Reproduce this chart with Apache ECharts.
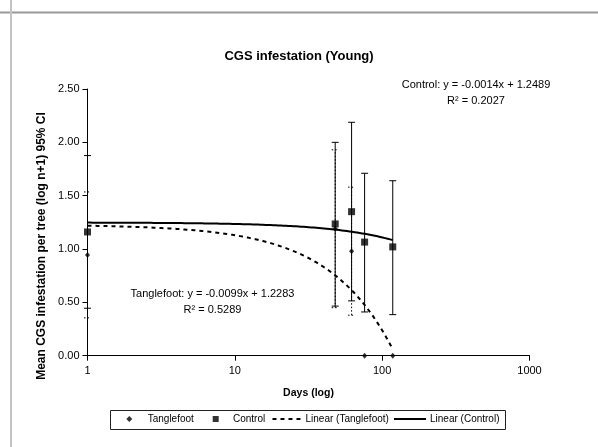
<!DOCTYPE html>
<html><head><meta charset="utf-8">
<script src="https://cdn.jsdelivr.net/npm/echarts@6/dist/echarts.min.js"></script>
<style>html,body{margin:0;padding:0;background:#fff}#c{width:598px;height:447px}</style>
</head><body><div id="c"></div>
<script>
// ---- data ----
const days = [1, 48, 62, 76, 118];
const tanglefootMean = [0.945, 1.19, 0.98, 0, 0];
const tanglefootLow  = [0.355, 0.45, 0.38, 0, 0];
const tanglefootHigh = [1.535, 1.93, 1.58, 0, 0];
const controlMean = [1.16, 1.235, 1.35, 1.065, 1.02];
const controlLow  = [0.445, 0.465, 0.514, 0.41, 0.385];
const controlHigh = [1.876, 2.0, 2.188, 1.71, 1.64];
const tanglefootTrend = { slope: -0.0099, intercept: 1.2283, r2: '0.5289' };
const controlTrend = { slope: -0.0014, intercept: 1.2489, r2: '0.2027' };
const xTicks = [1, 10, 100, 1000];
const yTicks = ['0.00', '0.50', '1.00', '1.50', '2.00', '2.50'];
const chartTitle = 'CGS infestation (Young)';
const xName = 'Days (log)';
const yName = 'Mean CGS infestation per tree (log n+1) 95% CI';

const FONT = 'Liberation Sans, Arial, Helvetica, sans-serif';

function pts(xs, ys) { return xs.map((x, i) => [x, ys[i]]); }
function errData(xs, lo, hi) {
  return xs.map((x, i) => [x, lo[i], hi[i]]).filter(d => d[2] > d[1]);
}
// Excel linear trendline (y = a*x + b) drawn over the data's x range on a log axis
function trendLine(t) {
  const lo = Math.log10(days[0]), hi = Math.log10(days[days.length - 1]);
  const out = [];
  for (let i = 0; i <= 120; i++) {
    const x = Math.pow(10, lo + (hi - lo) * i / 120);
    out.push([x, t.slope * x + t.intercept]);
  }
  return out;
}
function errRender(dash) {
  return function (params, api) {
    const x = api.value(0);
    const pLo = api.coord([x, api.value(1)]);
    const pHi = api.coord([x, api.value(2)]);
    const cap = 3.5;
    const style = { stroke: '#000', lineWidth: 1, lineDash: dash };
    return {
      type: 'group',
      children: [
        { type: 'line', shape: { x1: pLo[0], y1: pLo[1], x2: pHi[0], y2: pHi[1] }, style },
        { type: 'line', shape: { x1: pLo[0] - cap, y1: pLo[1], x2: pLo[0] + cap, y2: pLo[1] }, style },
        { type: 'line', shape: { x1: pHi[0] - cap, y1: pHi[1], x2: pHi[0] + cap, y2: pHi[1] }, style }
      ]
    };
  };
}

const chart = echarts.init(document.getElementById('c'), null, { renderer: 'canvas' });
const txt = { fontFamily: FONT, fontSize: 11, color: '#000' };

function legendAt(name, left, w, textPad, isLine) {
  const l = {
    data: [{ name }], left, top: 414, itemWidth: w, itemHeight: 6, padding: 0,
    textStyle: { fontFamily: FONT, fontSize: 10, color: '#000', padding: [0, 0, 0, textPad] },
    itemGap: 0, selectedMode: false
  };
  if (isLine) l.itemStyle = { color: 'rgba(0,0,0,0)', borderWidth: 0, opacity: 0 };
  return l;
}

chart.setOption({
  animation: false,
  backgroundColor: '#fff',
  textStyle: { fontFamily: FONT },
  title: {
    text: chartTitle, left: 'center', top: 45,
    textStyle: { fontFamily: FONT, fontSize: 13, fontWeight: 'bold', color: '#000' }
  },
  grid: { left: 87.5, right: 68.5, top: 89, bottom: 91.3, containLabel: false },
  legend: [
    legendAt('Tanglefoot', 126.3, 6, 10.4, false),
    legendAt('Control', 212.7, 6, 9.3, false),
    legendAt('Linear (Tanglefoot)', 271.5, 29, -1, true),
    legendAt('Linear (Control)', 393, 32, -1, true)
  ],
  xAxis: {
    type: 'log', logBase: 10, min: xTicks[0], max: xTicks[xTicks.length - 1],
    name: xName, nameLocation: 'middle', nameGap: 32,
    nameTextStyle: { fontFamily: FONT, fontSize: 10.5, fontWeight: 'bold', color: '#000' },
    axisLine: { lineStyle: { color: '#000', width: 1 } },
    axisTick: { show: true, inside: false, length: 5, lineStyle: { color: '#000' } },
    minorTick: { show: false },
    axisLabel: Object.assign({ margin: 10, formatter: v => String(Math.round(v)) }, txt),
    splitLine: { show: false }
  },
  yAxis: {
    type: 'value', min: 0, max: 2.5, interval: 0.5,
    axisLine: { show: true, lineStyle: { color: '#000', width: 1 } },
    axisTick: { show: true, inside: false, length: 5, lineStyle: { color: '#000' } },
    axisLabel: Object.assign({ margin: 8, formatter: v => yTicks[Math.round(v / 0.5)] }, txt),
    splitLine: { show: false }
  },
  graphic: [
    { type: 'line', shape: { x1: 0, y1: 12.5, x2: 598, y2: 12.5 }, style: { stroke: '#9a9a9a', lineWidth: 2 }, silent: true },
    { type: 'line', shape: { x1: 11, y1: 0, x2: 11, y2: 447 }, style: { stroke: '#c4c4c4', lineWidth: 2 }, silent: true },
    { type: 'rect', shape: { x: 110.5, y: 410.5, width: 395, height: 19 }, style: { fill: 'none', stroke: '#222', lineWidth: 1 }, silent: true },
    { type: 'text', x: 42, y: 246, rotation: Math.PI / 2,
      style: { text: yName, fontFamily: FONT, fontSize: 12, fontWeight: 'bold', fill: '#000', align: 'center', verticalAlign: 'middle' } },
    { type: 'text', x: 476, y: 85,
      style: { text: 'Control: y = ' + controlTrend.slope.toFixed(4) + 'x + ' + controlTrend.intercept.toFixed(4), fontFamily: FONT, fontSize: 11, fill: '#000', align: 'center', verticalAlign: 'middle' } },
    { type: 'text', x: 476, y: 101,
      style: { text: 'R\u00B2 = ' + controlTrend.r2, fontFamily: FONT, fontSize: 11, fill: '#000', align: 'center', verticalAlign: 'middle' } },
    { type: 'text', x: 212.5, y: 293.5,
      style: { text: 'Tanglefoot: y = ' + tanglefootTrend.slope.toFixed(4) + 'x + ' + tanglefootTrend.intercept.toFixed(4), fontFamily: FONT, fontSize: 11, fill: '#000', align: 'center', verticalAlign: 'middle' } },
    { type: 'text', x: 212.5, y: 309.5,
      style: { text: 'R\u00B2 = ' + tanglefootTrend.r2, fontFamily: FONT, fontSize: 11, fill: '#000', align: 'center', verticalAlign: 'middle' } }
  ],
  series: [
    { name: 'Control CI', type: 'custom', renderItem: errRender(null), data: errData(days, controlLow, controlHigh), z: 2, encode: { x: 0, y: [1, 2] } },
    { name: 'Tanglefoot CI', type: 'custom', renderItem: errRender([1.5, 2]), data: errData(days, tanglefootLow, tanglefootHigh), z: 2, encode: { x: 0, y: [1, 2] } },
    { name: 'Linear (Tanglefoot)', type: 'line', data: trendLine(tanglefootTrend), showSymbol: false, symbol: 'none',
      lineStyle: { color: '#000', width: 2, type: [4, 4] }, itemStyle: { color: '#000' }, z: 3 },
    { name: 'Linear (Control)', type: 'line', data: trendLine(controlTrend), showSymbol: false, symbol: 'none',
      lineStyle: { color: '#000', width: 2, type: 'solid' }, itemStyle: { color: '#000' }, z: 3 },
    { name: 'Tanglefoot', type: 'scatter', data: pts(days, tanglefootMean), symbol: 'diamond', symbolSize: [5, 6],
      itemStyle: { color: '#000' }, clip: false, z: 4 },
    { name: 'Control', type: 'scatter', data: pts(days, controlMean), symbol: 'rect', symbolSize: 7,
      itemStyle: { color: '#000' }, clip: false, z: 4 }
  ]
});
</script></body></html>
